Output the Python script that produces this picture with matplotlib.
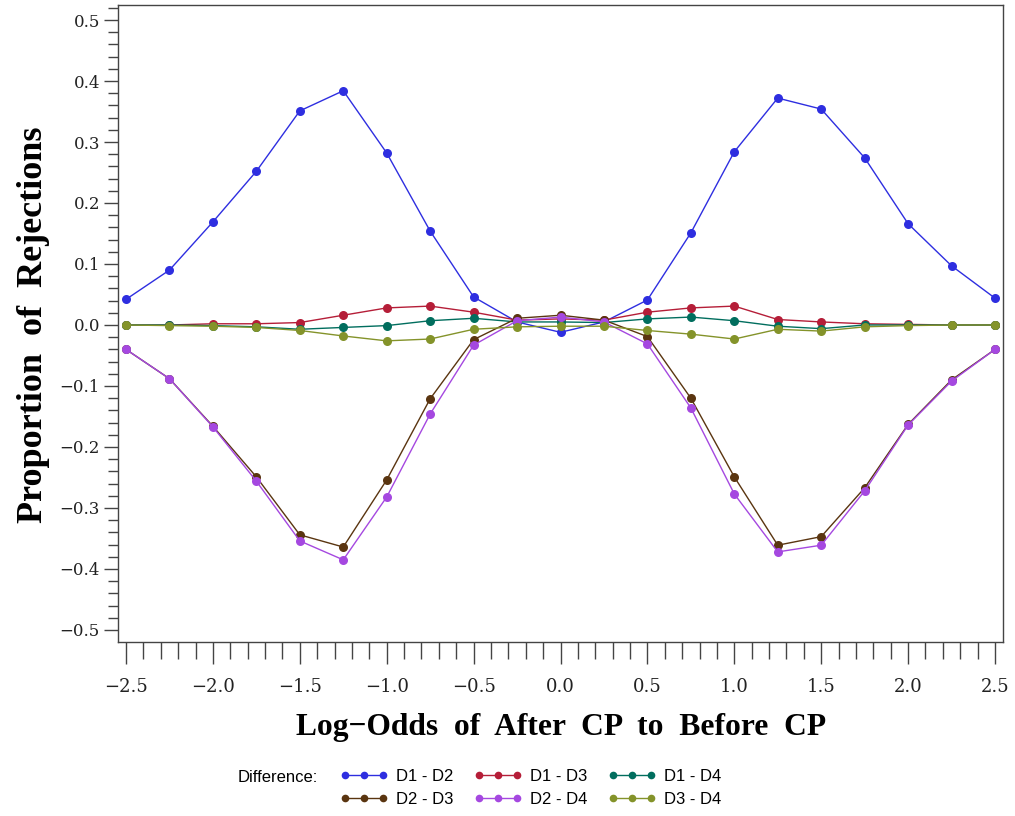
import numpy as np
import matplotlib
matplotlib.use("Agg")
import matplotlib.pyplot as plt
from matplotlib.ticker import MultipleLocator, FixedLocator

x = [-2.5, -2.25, -2.0, -1.75, -1.5, -1.25, -1.0, -0.75, -0.5, -0.25, 0.0,
     0.25, 0.5, 0.75, 1.0, 1.25, 1.5, 1.75, 2.0, 2.25, 2.5]

d1_d2 = [0.042, 0.090, 0.169, 0.252, 0.351, 0.384, 0.282, 0.154, 0.046, 0.005, -0.012,
         0.005, 0.041, 0.151, 0.284, 0.372, 0.354, 0.274, 0.166, 0.097, 0.044]
d1_d3 = [0.000, 0.000, 0.002, 0.002, 0.004, 0.016, 0.028, 0.031, 0.021, 0.008, 0.010,
         0.008, 0.021, 0.028, 0.031, 0.009, 0.005, 0.002, 0.001, 0.000, 0.000]
d1_d4 = [0.000, 0.000, -0.001, -0.003, -0.007, -0.004, -0.001, 0.007, 0.011, 0.005, 0.005,
         0.004, 0.010, 0.013, 0.007, -0.002, -0.006, 0.000, 0.000, 0.000, 0.000]
d2_d3 = [-0.040, -0.088, -0.166, -0.249, -0.344, -0.364, -0.254, -0.121, -0.024, 0.011, 0.016,
         0.008, -0.019, -0.120, -0.249, -0.361, -0.347, -0.267, -0.163, -0.090, -0.040]
d2_d4 = [-0.040, -0.088, -0.167, -0.256, -0.354, -0.385, -0.282, -0.146, -0.033, 0.007, 0.013,
         0.005, -0.031, -0.136, -0.277, -0.372, -0.361, -0.272, -0.164, -0.092, -0.040]
d3_d4 = [0.000, -0.001, -0.002, -0.004, -0.009, -0.018, -0.026, -0.023, -0.007, -0.003, -0.002,
         -0.002, -0.009, -0.015, -0.023, -0.007, -0.010, -0.003, -0.001, 0.000, 0.000]

series = [
    ("D1 - D2", d1_d2, "#2E2EE0"),
    ("D1 - D3", d1_d3, "#B51E38"),
    ("D1 - D4", d1_d4, "#016E5E"),
    ("D2 - D3", d2_d3, "#5A3510"),
    ("D2 - D4", d2_d4, "#A548E0"),
    ("D3 - D4", d3_d4, "#84932A"),
]

xticks = [-2.5, -2.0, -1.5, -1.0, -0.5, 0.0, 0.5, 1.0, 1.5, 2.0, 2.5]
xticklabels = ["\u22122.5", "\u22122.0", "\u22121.5", "\u22121.0", "\u22120.5", "0.0",
               "0.5", "1.0", "1.5", "2.0", "2.5"]
yticks = [-0.5, -0.4, -0.3, -0.2, -0.1, 0.0, 0.1, 0.2, 0.3, 0.4, 0.5]
yticklabels = ["\u22120.5", "\u22120.4", "\u22120.3", "\u22120.2", "\u22120.1", "0.0",
               "0.1", "0.2", "0.3", "0.4", "0.5"]

fig = plt.figure(figsize=(10.15, 8.16), dpi=100)
W, H = 1015, 816
L, R, T, B = 118, 1003, 5, 642
ax = fig.add_axes([L / W, 1 - B / H, (R - L) / W, (B - T) / H])

handles = {}
for name, vals, col in series:
    h, = ax.plot(x, vals, color=col, lw=1.0, marker="o", markersize=6.5,
                 markeredgewidth=0, label=name)
    handles[name] = h

ax.set_xlim(-2.546, 2.546)
ax.set_ylim(-0.5197, 0.5246)

ax.xaxis.set_major_locator(FixedLocator(xticks))
ax.set_xticklabels(xticklabels, family="DejaVu Serif", fontsize=13)
ax.xaxis.set_minor_locator(MultipleLocator(0.1))
ax.yaxis.set_major_locator(FixedLocator(yticks))
ax.set_yticklabels(yticklabels, family="DejaVu Serif", fontsize=12)
ax.yaxis.set_minor_locator(MultipleLocator(0.02))

spine_col = "#444444"
for s in ax.spines.values():
    s.set_color(spine_col)
    s.set_linewidth(1.0)
ax.tick_params(axis="x", which="major", length=16, width=1, color=spine_col, pad=10, labelcolor="#222222")
ax.tick_params(axis="x", which="minor", length=12, width=1, color=spine_col)
ax.tick_params(axis="y", which="major", length=10, width=1, color=spine_col, pad=3, labelcolor="#222222")
ax.tick_params(axis="y", which="minor", length=7, width=1, color=spine_col)

fig.text(34 / W, 1 - 325 / H, "Proportion  of  Rejections", rotation=90, ha="center", va="center",
         family="Liberation Serif", fontweight="bold", fontsize=26)
fig.text(561 / W, 1 - 728 / H, "Log\u2212Odds  of  After  CP  to  Before  CP", ha="center", va="center",
         family="Liberation Serif", fontweight="bold", fontsize=22.7)

fig.text(238 / W, 1 - 777 / H, "Difference:", ha="left", va="center",
         family="Liberation Sans", fontsize=12)
order = ["D1 - D2", "D2 - D3", "D1 - D3", "D2 - D4", "D1 - D4", "D3 - D4"]
leg = fig.legend([handles[n] for n in order], order, loc="upper left",
                 bbox_to_anchor=(340 / W, 1 - 769 / H), ncol=3, frameon=False,
                 prop={"family": "Liberation Sans", "size": 12},
                 numpoints=3, handlelength=2.9, handletextpad=0.45,
                 columnspacing=1.25, labelspacing=0.45, borderaxespad=0, borderpad=0)
for lh in leg.legend_handles:
    lh.set_markersize(5.5)

fig.savefig("out.png", dpi=100)
